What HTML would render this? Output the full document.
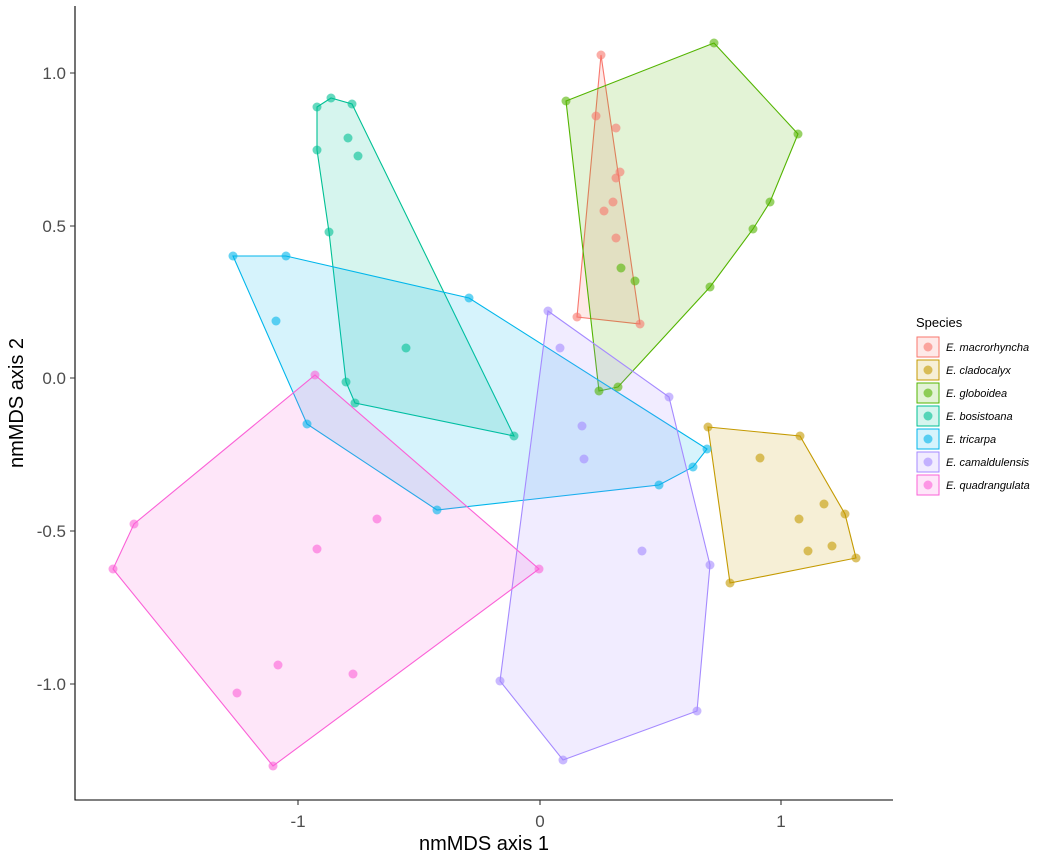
<!DOCTYPE html>
<html><head><meta charset="utf-8"><style>body{margin:0;background:#fff}svg{display:block}</style></head><body>
<svg width="1055" height="863" xmlns="http://www.w3.org/2000/svg" font-family="Liberation Sans, sans-serif">
<rect width="1055" height="863" fill="#fff"/>
<g stroke-width="1.1" fill-opacity="0.16">
<polygon points="601,55 640,324 577,317" fill="#F8766D" stroke="#F8766D"/>
<polygon points="708,427 800,436 845,514 856,558 730,583" fill="#C49A00" stroke="#C49A00"/>
<polygon points="566,101 714,43 798,134 770,202 753,229 710,287 618,387 599,391" fill="#53B400" stroke="#53B400"/>
<polygon points="317,107 331,98 352,104 514,436 355,403 346,382 329,232 317,150" fill="#00C094" stroke="#00C094"/>
<polygon points="233,256 286,256 469,298 707,449 693,467 659,485 437,510 307,424" fill="#00B6EB" stroke="#00B6EB"/>
<polygon points="548,311 669,397 710,565 697,711 563,760 500,681" fill="#A58AFF" stroke="#A58AFF"/>
<polygon points="315,375 539,569 273,766 113,569 134,524" fill="#FB61D7" stroke="#FB61D7"/>
</g>
<g fill-opacity="0.6">
<g fill="#F8766D"><circle cx="601" cy="55" r="4.5"/><circle cx="596" cy="116" r="4.5"/><circle cx="616" cy="128" r="4.5"/><circle cx="620" cy="172" r="4.5"/><circle cx="616" cy="178" r="4.5"/><circle cx="613" cy="202" r="4.5"/><circle cx="604" cy="211" r="4.5"/><circle cx="616" cy="238" r="4.5"/><circle cx="577" cy="317" r="4.5"/><circle cx="640" cy="324" r="4.5"/></g>
<g fill="#C49A00"><circle cx="708" cy="427" r="4.5"/><circle cx="800" cy="436" r="4.5"/><circle cx="760" cy="458" r="4.5"/><circle cx="845" cy="514" r="4.5"/><circle cx="824" cy="504" r="4.5"/><circle cx="799" cy="519" r="4.5"/><circle cx="832" cy="546" r="4.5"/><circle cx="808" cy="551" r="4.5"/><circle cx="856" cy="558" r="4.5"/><circle cx="730" cy="583" r="4.5"/></g>
<g fill="#53B400"><circle cx="714" cy="43" r="4.5"/><circle cx="798" cy="134" r="4.5"/><circle cx="770" cy="202" r="4.5"/><circle cx="753" cy="229" r="4.5"/><circle cx="710" cy="287" r="4.5"/><circle cx="635" cy="281" r="4.5"/><circle cx="621" cy="268" r="4.5"/><circle cx="618" cy="387" r="4.5"/><circle cx="599" cy="391" r="4.5"/><circle cx="566" cy="101" r="4.5"/></g>
<g fill="#00C094"><circle cx="331" cy="98" r="4.5"/><circle cx="317" cy="107" r="4.5"/><circle cx="352" cy="104" r="4.5"/><circle cx="348" cy="138" r="4.5"/><circle cx="358" cy="156" r="4.5"/><circle cx="317" cy="150" r="4.5"/><circle cx="329" cy="232" r="4.5"/><circle cx="406" cy="348" r="4.5"/><circle cx="346" cy="382" r="4.5"/><circle cx="355" cy="403" r="4.5"/><circle cx="514" cy="436" r="4.5"/></g>
<g fill="#00B6EB"><circle cx="233" cy="256" r="4.5"/><circle cx="286" cy="256" r="4.5"/><circle cx="469" cy="298" r="4.5"/><circle cx="276" cy="321" r="4.5"/><circle cx="707" cy="449" r="4.5"/><circle cx="693" cy="467" r="4.5"/><circle cx="659" cy="485" r="4.5"/><circle cx="437" cy="510" r="4.5"/><circle cx="307" cy="424" r="4.5"/></g>
<g fill="#A58AFF"><circle cx="548" cy="311" r="4.5"/><circle cx="560" cy="348" r="4.5"/><circle cx="669" cy="397" r="4.5"/><circle cx="582" cy="426" r="4.5"/><circle cx="584" cy="459" r="4.5"/><circle cx="642" cy="551" r="4.5"/><circle cx="710" cy="565" r="4.5"/><circle cx="697" cy="711" r="4.5"/><circle cx="563" cy="760" r="4.5"/><circle cx="500" cy="681" r="4.5"/></g>
<g fill="#FB61D7"><circle cx="315" cy="375" r="4.5"/><circle cx="539" cy="569" r="4.5"/><circle cx="273" cy="766" r="4.5"/><circle cx="113" cy="569" r="4.5"/><circle cx="134" cy="524" r="4.5"/><circle cx="377" cy="519" r="4.5"/><circle cx="317" cy="549" r="4.5"/><circle cx="278" cy="665" r="4.5"/><circle cx="237" cy="693" r="4.5"/><circle cx="353" cy="674" r="4.5"/></g>
</g>
<g stroke="#000" stroke-width="1.1" fill="none"><path d="M75,6V800H893"/></g>
<g stroke="#333" stroke-width="1.1"><path d="M298,800v5M540,800v5M781,800v5M70,73h5M70,226h5M70,378h5M70,531h5M70,684h5"/></g>
<g fill="#4d4d4d" font-size="17"><text x="298" y="827" text-anchor="middle">-1</text><text x="540" y="827" text-anchor="middle">0</text><text x="781" y="827" text-anchor="middle">1</text>
<g text-anchor="end"><text x="66" y="79">1.0</text><text x="66" y="232">0.5</text><text x="66" y="384">0.0</text><text x="66" y="537">-0.5</text><text x="66" y="690">-1.0</text></g></g>
<text x="484" y="850" text-anchor="middle" font-size="20">nmMDS axis 1</text>
<text transform="translate(23,403) rotate(-90)" text-anchor="middle" font-size="20">nmMDS axis 2</text>
<text x="916" y="327" font-size="13">Species</text>
<g font-size="11" font-style="italic">
<g transform="translate(917,337)"><rect width="22" height="20" fill="#F8766D" fill-opacity="0.16" stroke="#F8766D"/><circle cx="11" cy="10" r="4.5" fill="#F8766D" fill-opacity="0.6"/><text x="29" y="14">E. macrorhyncha</text></g>
<g transform="translate(917,360)"><rect width="22" height="20" fill="#C49A00" fill-opacity="0.16" stroke="#C49A00"/><circle cx="11" cy="10" r="4.5" fill="#C49A00" fill-opacity="0.6"/><text x="29" y="14">E. cladocalyx</text></g>
<g transform="translate(917,383)"><rect width="22" height="20" fill="#53B400" fill-opacity="0.16" stroke="#53B400"/><circle cx="11" cy="10" r="4.5" fill="#53B400" fill-opacity="0.6"/><text x="29" y="14">E. globoidea</text></g>
<g transform="translate(917,406)"><rect width="22" height="20" fill="#00C094" fill-opacity="0.16" stroke="#00C094"/><circle cx="11" cy="10" r="4.5" fill="#00C094" fill-opacity="0.6"/><text x="29" y="14">E. bosistoana</text></g>
<g transform="translate(917,429)"><rect width="22" height="20" fill="#00B6EB" fill-opacity="0.16" stroke="#00B6EB"/><circle cx="11" cy="10" r="4.5" fill="#00B6EB" fill-opacity="0.6"/><text x="29" y="14">E. tricarpa</text></g>
<g transform="translate(917,452)"><rect width="22" height="20" fill="#A58AFF" fill-opacity="0.16" stroke="#A58AFF"/><circle cx="11" cy="10" r="4.5" fill="#A58AFF" fill-opacity="0.6"/><text x="29" y="14">E. camaldulensis</text></g>
<g transform="translate(917,475)"><rect width="22" height="20" fill="#FB61D7" fill-opacity="0.16" stroke="#FB61D7"/><circle cx="11" cy="10" r="4.5" fill="#FB61D7" fill-opacity="0.6"/><text x="29" y="14">E. quadrangulata</text></g>
</g>
</svg>
</body></html>
